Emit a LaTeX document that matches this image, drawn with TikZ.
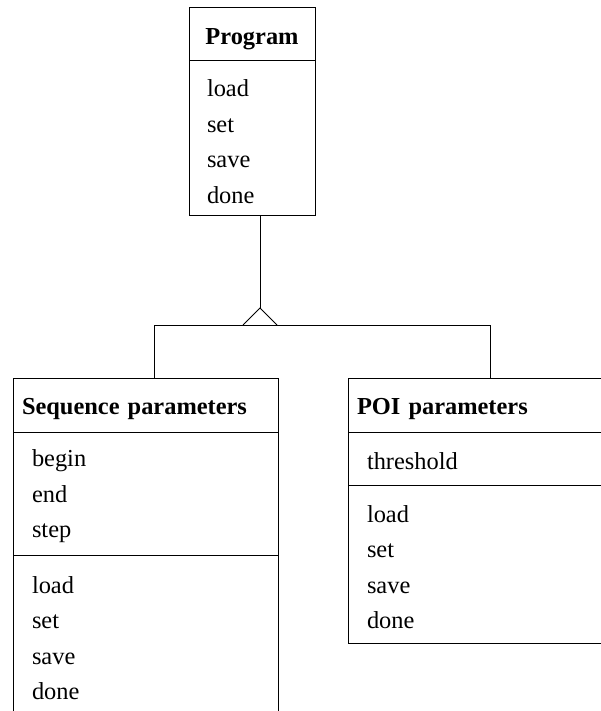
\documentclass[tikz,border=0pt]{standalone}
\usepackage{fontspec}
\setmainfont{Liberation Serif}
\usetikzlibrary{positioning}
\tikzset{
  cls/.style={draw,line width=1pt,outer sep=0pt,inner ysep=0pt,anchor=north west,align=left,font=\fontsize{24.4}{35.5}\selectfont},
  clshead/.style={cls,inner xsep=9pt,minimum height=54pt,font=\fontsize{24.4}{35.5}\selectfont\bfseries,execute at begin node={\rule{0pt}{25pt}}},
  clsbody/.style={cls,inner xsep=19pt,execute at begin node={\rule{0pt}{23pt}}},
}
\begin{document}
\begin{tikzpicture}[x=1pt,y=-1pt]
\useasboundingbox (0,0) rectangle (601,711);
\clip (0,0) rectangle (601,711);

% base class
\node[clshead,text width=108pt,align=center,minimum height=53pt] (prog) at (189,8) {Program};
\node[clsbody,inner xsep=18pt,text width=90pt,minimum height=155pt,below=0pt of prog] (progops) {load\\set\\save\\done};

% sub classes
\node[clshead,text width=247pt] (seq) at (13,378) {Sequence parameters};
\node[clsbody,text width=227pt,minimum height=123pt,below=0pt of seq] (seqattr) {begin\\end\\step};
\node[clsbody,text width=227pt,minimum height=160pt,below=0pt of seqattr] (seqops) {load\\set\\save\\done};

\node[clshead,text width=254pt] (poi) at (348,378) {POI parameters};
\node[clsbody,text width=234pt,minimum height=53pt,below=0pt of poi] (poiattr) {threshold};
\node[clsbody,text width=234pt,minimum height=158pt,below=0pt of poiattr] (poiops) {load\\set\\save\\done};

% inheritance
\coordinate (tip) at (260,308);
\coordinate (lft) at (154,325);
\coordinate (rgt) at (490,325);
\draw[line width=1pt] (progops.south -| tip) -- (tip);
\draw[line width=1pt] (tip) ++(-17,17) -- (tip) -- ++(17,17);
\draw[line width=1pt] (lft |- seq.north) -- (lft) -- (rgt) -- (rgt |- poi.north);
\end{tikzpicture}
\end{document}
